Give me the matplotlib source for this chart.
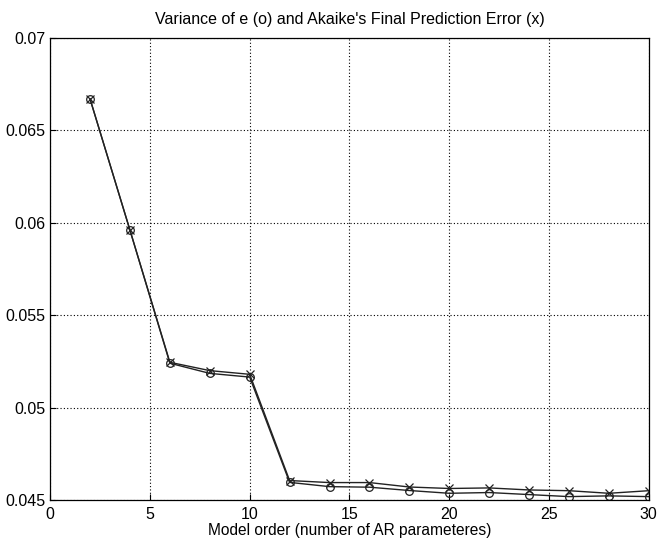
import matplotlib
matplotlib.use("Agg")
import matplotlib.pyplot as plt
from matplotlib.ticker import FuncFormatter

plt.rcParams['font.family'] = ['Liberation Sans', 'DejaVu Sans']

# model orders and the two error curves
order = [2, 4, 6, 8, 10, 12, 14, 16, 18, 20, 22, 24, 26, 28, 30]
var_e = [0.0667, 0.0596, 0.05240, 0.05185, 0.05165, 0.04595, 0.04572, 0.04569, 0.04551,
         0.04536, 0.04540, 0.04529, 0.04518, 0.04522, 0.04518]
fpe = [0.0667, 0.0596, 0.05245, 0.05200, 0.05180, 0.04605, 0.04594, 0.04594, 0.04570,
       0.04562, 0.04565, 0.04554, 0.04550, 0.04536, 0.04550]

fig = plt.figure(figsize=(6.6, 5.44), dpi=100)
ax = fig.add_axes([0.076, 0.081, 0.907, 0.849])

ax.plot(order, var_e, color='#222222', lw=1.0, marker='o', ms=5.5, mfc='none', mec='#222222', mew=0.9)
ax.plot(order, fpe, color='#222222', lw=1.0, marker='x', ms=5.5, mec='#222222', mew=0.9)

ax.set_xlim(0, 30)
ax.set_ylim(0.045, 0.07)
ax.set_xticks(range(0, 31, 5))
ax.set_yticks([0.045, 0.05, 0.055, 0.06, 0.065, 0.07])
ax.yaxis.set_major_formatter(FuncFormatter(lambda v, p: '%g' % round(v, 4)))
ax.grid(True, color='black', linestyle=(0, (1, 2)), linewidth=0.8)
ax.tick_params(direction='in', labelsize=11.5, length=4)
ax.tick_params(axis='x', pad=5)
for s in ax.spines.values():
    s.set_linewidth(0.9)

ax.set_title("Variance of e (o) and Akaike's Final Prediction Error (x)", fontsize=11.5, pad=10)
ax.set_xlabel("Model order (number of AR parameteres)", fontsize=11.2, labelpad=1)

fig.savefig("out.png", dpi=100)
